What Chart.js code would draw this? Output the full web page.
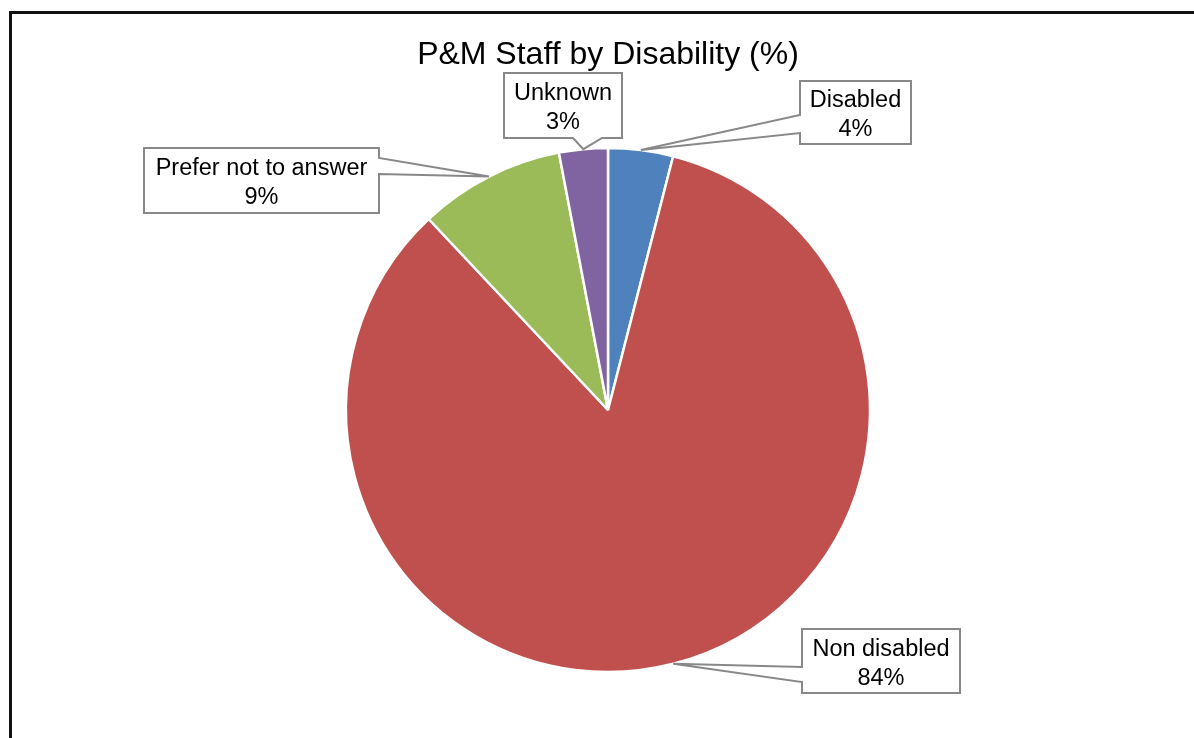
<!DOCTYPE html>
<html>
<head>
<meta charset="utf-8">
<title>P&amp;M Staff by Disability (%)</title>
<script src="https://cdn.jsdelivr.net/npm/chart.js@4.4.1/dist/chart.umd.min.js"></script>
<style>
  html, body { margin: 0; padding: 0; background: #fff; overflow: hidden; }
  #wrap { position: relative; width: 1194px; height: 738px; overflow: hidden; }
  #frame {
    position: absolute; left: 9px; top: 11px;
    width: 1400px; height: 1000px;
    border: 3px solid #111; pointer-events: none;
  }
  canvas { display: block; }
</style>
</head>
<body>
<div id="wrap">
  <canvas id="chart" width="1194" height="738"></canvas>
  <div id="frame"></div>
</div>
<script>
// chart data
const categories = ['Disabled', 'Non disabled', 'Prefer not to answer', 'Unknown'];
const percentages = [4, 84, 9, 3];
const sliceColors = ['#4F81BD', '#C0504D', '#9BBB59', '#8064A2'];

const FONT = '"Liberation Sans", Arial, sans-serif';

// wedge callouts (box + pointer to the middle of the slice edge)
const calloutPlugin = {
  id: 'callouts',
  afterDatasetsDraw(chart, args, opts) {
    const ctx = chart.ctx;
    const meta = chart.getDatasetMeta(0);
    meta.data.forEach((arc, i) => {
      const box = opts.boxes[i];
      if (!box) return;
      const p = arc.getProps(['x', 'y', 'startAngle', 'endAngle', 'outerRadius'], true);
      const mid = (p.startAngle + p.endAngle) / 2;
      const tx = p.x + Math.cos(mid) * p.outerRadius;
      const ty = p.y + Math.sin(mid) * p.outerRadius;
      const l = box.x, t = box.y, r = box.x + box.w, b = box.y + box.h;

      ctx.save();
      ctx.beginPath();
      ctx.moveTo(l, t);
      if (box.side === 'left') {
        ctx.lineTo(r, t);
        ctx.lineTo(r, b);
        ctx.lineTo(l, b);
        ctx.lineTo(l, box.b);
        ctx.lineTo(tx, ty);
        ctx.lineTo(l, box.a);
      } else if (box.side === 'right') {
        ctx.lineTo(r, t);
        ctx.lineTo(r, box.a);
        ctx.lineTo(tx, ty);
        ctx.lineTo(r, box.b);
        ctx.lineTo(r, b);
        ctx.lineTo(l, b);
      } else { // bottom
        ctx.lineTo(r, t);
        ctx.lineTo(r, b);
        ctx.lineTo(box.b, b);
        ctx.lineTo(tx, ty);
        ctx.lineTo(box.a, b);
        ctx.lineTo(l, b);
      }
      ctx.closePath();
      ctx.fillStyle = '#fff';
      ctx.fill();
      ctx.lineWidth = 2;
      ctx.strokeStyle = '#888';
      ctx.lineJoin = 'miter';
      ctx.stroke();

      ctx.fillStyle = '#000';
      ctx.font = opts.fontSize + 'px ' + FONT;
      ctx.textAlign = 'center';
      ctx.textBaseline = 'middle';
      const cx = (l + r) / 2;
      const cy = (t + b) / 2 + 3;
      ctx.fillText(categories[i], cx, cy - opts.lineGap / 2);
      ctx.fillText(percentages[i] + '%', cx, cy + opts.lineGap / 2);
      ctx.restore();
    });
  }
};

new Chart(document.getElementById('chart'), {
  type: 'pie',
  data: {
    labels: categories,
    datasets: [{
      data: percentages,
      backgroundColor: sliceColors,
      borderColor: '#fff',
      borderWidth: 2.5
    }]
  },
  options: {
    responsive: false,
    animation: false,
    radius: 262,
    layout: {
      padding: { left: 22, right: 0, top: 0, bottom: 0 }
    },
    plugins: {
      legend: { display: false },
      tooltip: { enabled: false },
      title: {
        display: true,
        text: 'P&M Staff by Disability (%)',
        color: '#000',
        font: { family: FONT, size: 32, weight: 'normal' },
        padding: { top: 36, bottom: 7.6 }
      },
      callouts: {
        fontSize: 23.5,
        lineGap: 29,
        boxes: [
          { x: 800, y: 81, w: 111, h: 63, side: 'left', a: 115, b: 133 },
          { x: 802, y: 629, w: 158, h: 64, side: 'left', a: 667, b: 682 },
          { x: 144, y: 148, w: 235, h: 65, side: 'right', a: 158, b: 174 },
          { x: 504, y: 73, w: 118, h: 65, side: 'bottom', a: 573, b: 602 }
        ]
      }
    }
  },
  plugins: [calloutPlugin]
});
</script>
</body>
</html>
